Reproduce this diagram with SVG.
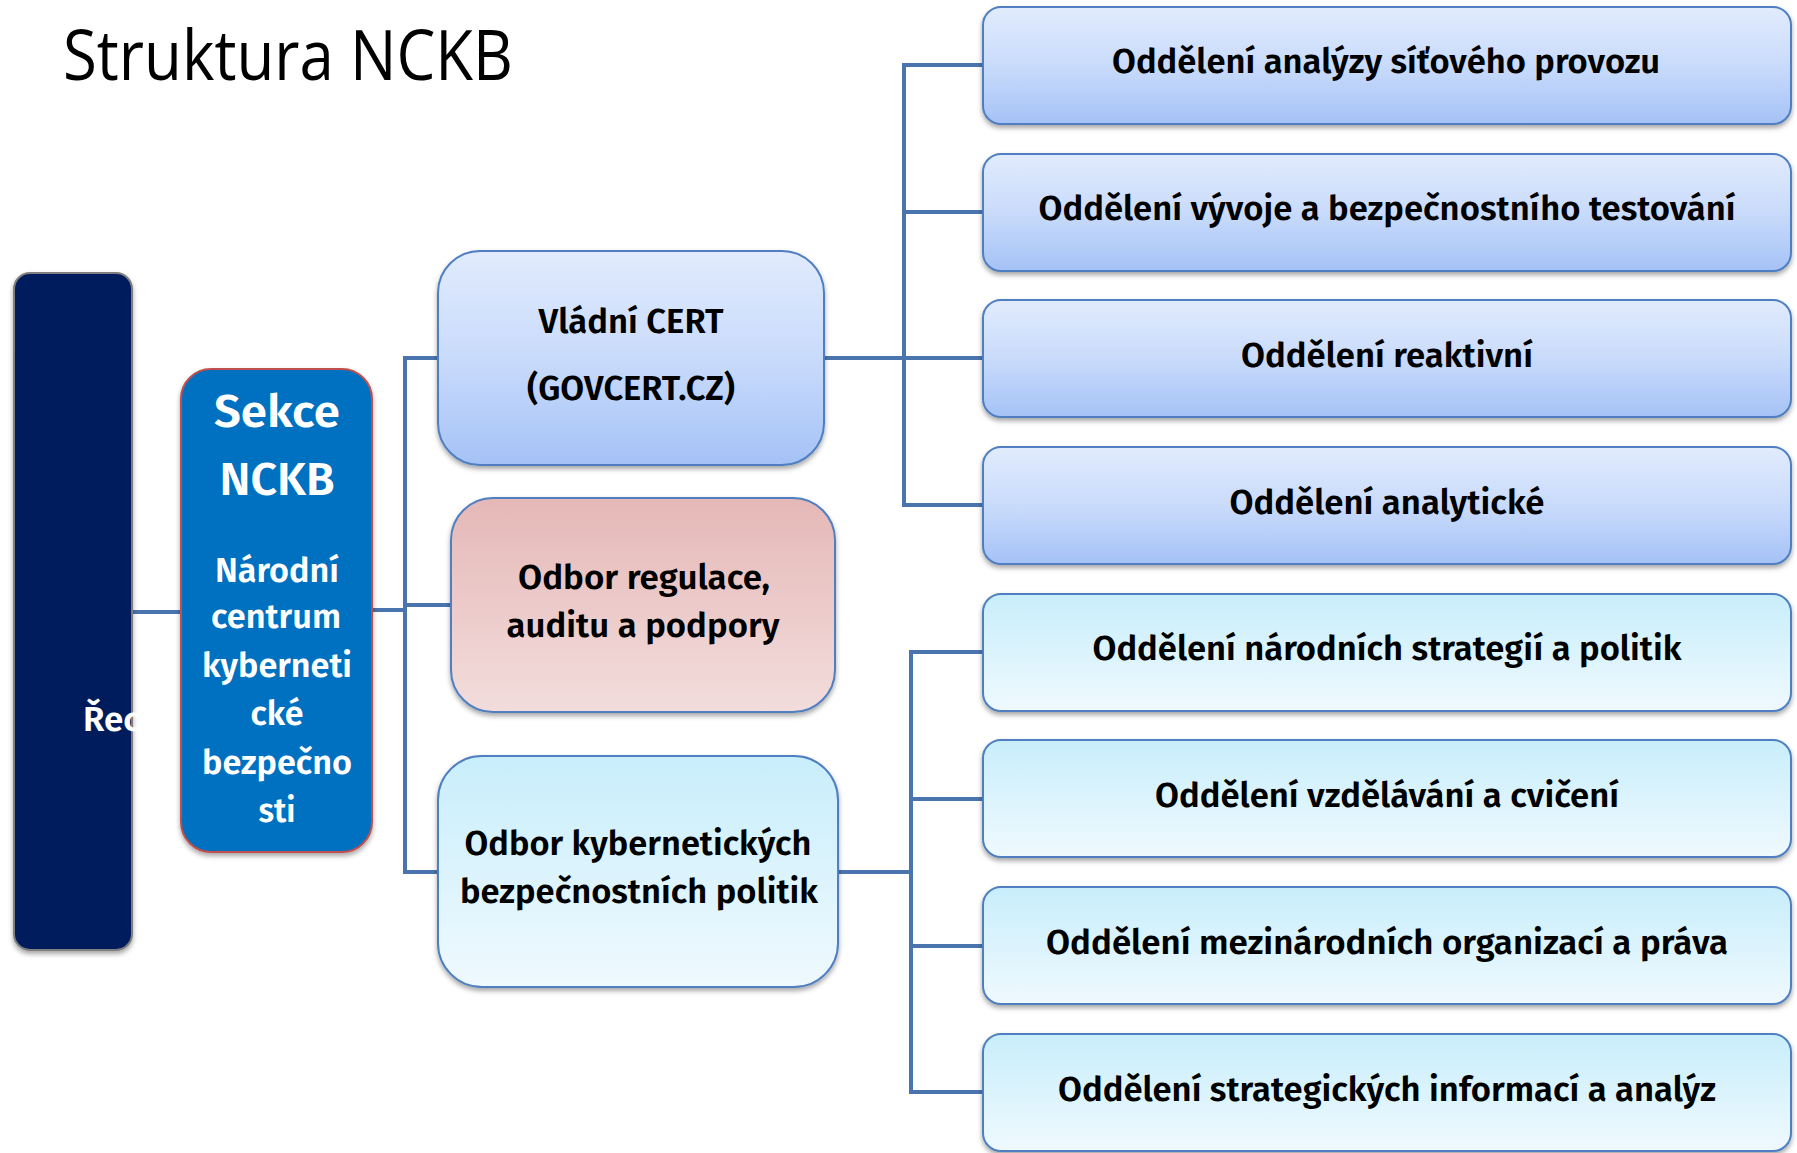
<svg xmlns="http://www.w3.org/2000/svg" width="1797" height="1153" viewBox="0 0 1797 1153">
<defs>
<linearGradient id="gBlue" x1="0" y1="0" x2="0" y2="1"><stop offset="0" stop-color="#E1EBFD"/><stop offset="0.5" stop-color="#C9DBFB"/><stop offset="1" stop-color="#A5C2F6"/></linearGradient>
<linearGradient id="gCyan" x1="0" y1="0" x2="0" y2="1"><stop offset="0" stop-color="#C8EEFB"/><stop offset="1" stop-color="#EFF9FE"/></linearGradient>
<linearGradient id="gPink" x1="0" y1="0" x2="0" y2="1"><stop offset="0" stop-color="#E5B8B7"/><stop offset="1" stop-color="#F2DDDC"/></linearGradient>
<filter id="sh" x="-10%" y="-10%" width="120%" height="130%"><feDropShadow dx="0" dy="3" stdDeviation="2.5" flood-color="#000" flood-opacity="0.35"/></filter>
<style>
.conn{fill:none;stroke:#4A74AE;stroke-width:4;stroke-linejoin:miter}
.bx{stroke:#4F7FC0;stroke-width:2;filter:url(#sh)}
.t{font-family:"Fira Sans","Noto Sans","Lato",sans-serif;font-weight:600;font-size:34px;fill:#000;text-anchor:middle}
.w{font-family:"Fira Sans","Noto Sans","Lato",sans-serif;font-weight:600;fill:#fff;text-anchor:middle}
</style>
</defs>
<rect width="1797" height="1153" fill="#fff"/>
<text x="63" y="80" font-family="Open Sans, Liberation Sans, sans-serif" font-size="70" font-weight="500" textLength="450" lengthAdjust="spacingAndGlyphs" fill="#000">Struktura NCKB</text>

<g id="connectors">
<path class="conn" d="M132 612 L181 612"/>
<path class="conn" d="M372 610 L405 610"/>
<path class="conn" d="M438 358 L405 358 L405 872 L438 872"/>
<path class="conn" d="M405 605 L451 605"/>
<path class="conn" d="M824 358 L983 358"/>
<path class="conn" d="M983 65 L904 65 L904 505 L983 505"/>
<path class="conn" d="M904 212 L983 212"/>
<path class="conn" d="M838 872 L911 872"/>
<path class="conn" d="M983 652 L911 652 L911 1092 L983 1092"/>
<path class="conn" d="M911 799 L983 799"/>
<path class="conn" d="M911 946 L983 946"/>
</g>

<g id="n-reditel">
<rect x="14" y="273" width="118" height="677" rx="16" fill="#031F5C" stroke="#7F7F7F" stroke-width="2" filter="url(#sh)"/>
<text class="w" x="83" y="731" font-size="35" style="text-anchor:start">Řec</text>
</g>

<g id="n-sekce">
<rect x="181" y="369" width="191" height="483" rx="30" fill="#0070C0" stroke="#C0504D" stroke-width="2" filter="url(#sh)"/>
<text class="w" x="277" y="427" font-size="46" textLength="126" lengthAdjust="spacingAndGlyphs">Sekce</text>
<text class="w" x="277" y="495" font-size="46" textLength="115" lengthAdjust="spacingAndGlyphs">NCKB</text>
<text class="w" x="277" y="582" font-size="35" textLength="124" lengthAdjust="spacingAndGlyphs">Národní</text>
<text class="w" x="276" y="628" font-size="35" textLength="130" lengthAdjust="spacingAndGlyphs">centrum</text>
<text class="w" x="277" y="677" font-size="35" textLength="150" lengthAdjust="spacingAndGlyphs">kyberneti</text>
<text class="w" x="277" y="725" font-size="35" textLength="53" lengthAdjust="spacingAndGlyphs">cké</text>
<text class="w" x="277" y="774" font-size="35" textLength="150" lengthAdjust="spacingAndGlyphs">bezpečno</text>
<text class="w" x="277" y="822" font-size="35" textLength="37" lengthAdjust="spacingAndGlyphs">sti</text>
</g>

<g id="n-govcert">
<rect class="bx" x="438" y="251" width="386" height="214" rx="42" fill="url(#gBlue)"/>
<text class="t" x="631" y="333" textLength="185" lengthAdjust="spacingAndGlyphs">Vládní CERT</text>
<text class="t" x="631" y="400" textLength="208" lengthAdjust="spacingAndGlyphs">(GOVCERT.CZ)</text>
</g>

<g id="n-regulace">
<rect class="bx" x="451" y="498" width="384" height="214" rx="42" fill="url(#gPink)"/>
<text class="t" x="644" y="589" textLength="252" lengthAdjust="spacingAndGlyphs">Odbor regulace,</text>
<text class="t" x="643" y="637" textLength="273" lengthAdjust="spacingAndGlyphs">auditu a podpory</text>
</g>

<g id="n-politik">
<rect class="bx" x="438" y="756" width="400" height="231" rx="44" fill="url(#gCyan)"/>
<text class="t" x="638" y="855" textLength="347" lengthAdjust="spacingAndGlyphs">Odbor kybernetických</text>
<text class="t" x="639" y="903" textLength="358" lengthAdjust="spacingAndGlyphs">bezpečnostních politik</text>
</g>

<g id="n-o1"><rect class="bx" x="983" y="7" width="808" height="117" rx="18" fill="url(#gBlue)"/>
<text class="t" x="1386" y="73" textLength="548" lengthAdjust="spacingAndGlyphs">Oddělení analýzy síťového provozu</text></g>
<g id="n-o2"><rect class="bx" x="983" y="154" width="808" height="117" rx="18" fill="url(#gBlue)"/>
<text class="t" x="1387" y="220" textLength="697" lengthAdjust="spacingAndGlyphs">Oddělení vývoje a bezpečnostního testování</text></g>
<g id="n-o3"><rect class="bx" x="983" y="300" width="808" height="117" rx="18" fill="url(#gBlue)"/>
<text class="t" x="1387" y="367" textLength="292" lengthAdjust="spacingAndGlyphs">Oddělení reaktivní</text></g>
<g id="n-o4"><rect class="bx" x="983" y="447" width="808" height="117" rx="18" fill="url(#gBlue)"/>
<text class="t" x="1387" y="514" textLength="315" lengthAdjust="spacingAndGlyphs">Oddělení analytické</text></g>
<g id="n-o5"><rect class="bx" x="983" y="594" width="808" height="117" rx="18" fill="url(#gCyan)"/>
<text class="t" x="1387" y="660" textLength="589" lengthAdjust="spacingAndGlyphs">Oddělení národních strategií a politik</text></g>
<g id="n-o6"><rect class="bx" x="983" y="740" width="808" height="117" rx="18" fill="url(#gCyan)"/>
<text class="t" x="1387" y="807" textLength="464" lengthAdjust="spacingAndGlyphs">Oddělení vzdělávání a cvičení</text></g>
<g id="n-o7"><rect class="bx" x="983" y="887" width="808" height="117" rx="18" fill="url(#gCyan)"/>
<text class="t" x="1387" y="954" textLength="682" lengthAdjust="spacingAndGlyphs">Oddělení mezinárodních organizací a práva</text></g>
<g id="n-o8"><rect class="bx" x="983" y="1034" width="808" height="117" rx="18" fill="url(#gCyan)"/>
<text class="t" x="1387" y="1101" textLength="658" lengthAdjust="spacingAndGlyphs">Oddělení strategických informací a analýz</text></g>
</svg>
